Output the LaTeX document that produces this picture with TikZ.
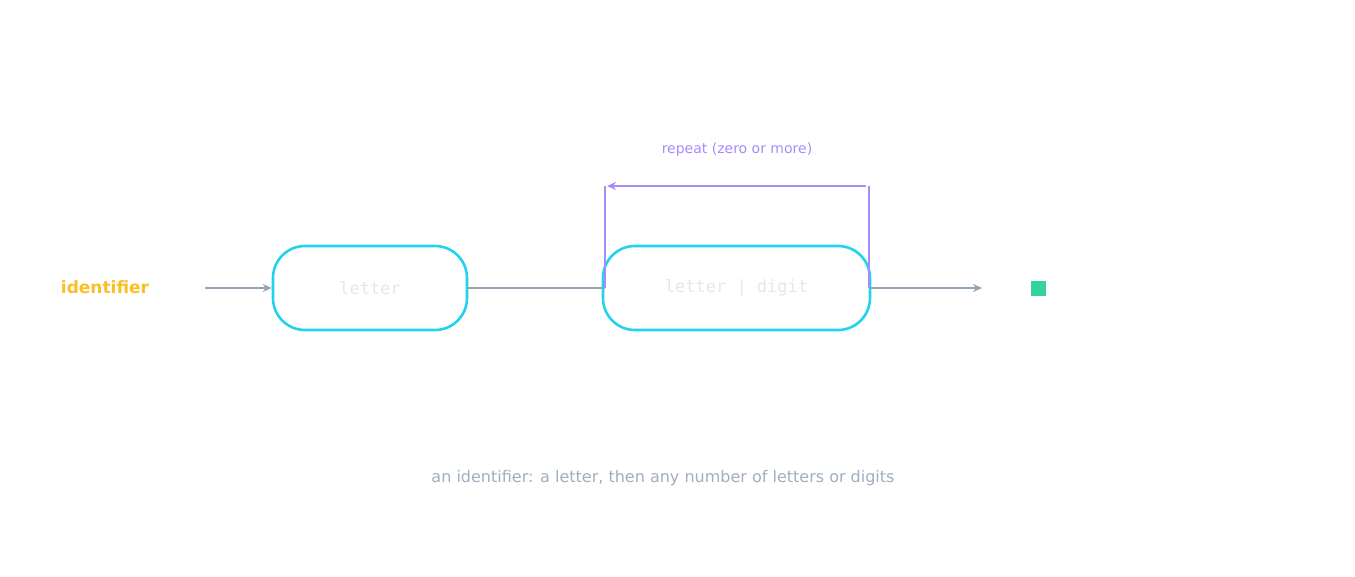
\documentclass[tikz,border=0pt]{standalone}
\usepackage{fontspec}
\setmainfont{DejaVu Sans}
\setmonofont{DejaVu Sans Mono}
\usetikzlibrary{arrows.meta}
\definecolor{cy}{HTML}{22D3EE}
\definecolor{gr}{HTML}{94A3B8}
\definecolor{pu}{HTML}{A78BFA}
\definecolor{lt}{HTML}{E2E8F0}
\definecolor{yl}{HTML}{FBBF24}
\definecolor{gn}{HTML}{34D399}
\definecolor{cap}{HTML}{A0AEC0}
\begin{document}
\begin{tikzpicture}[x=1pt,y=-1pt,
 box/.style={draw=cy,line width=2.6pt,rounded corners=32pt,text=lt,font=\ttfamily\fontsize{17}{20}\selectfont},
 conn/.style={draw=gr,line width=2.4pt,-{Stealth[length=9pt,width=8pt]}},
 loop/.style={draw=pu,line width=2.4pt}]
\useasboundingbox (0,0) rectangle (1355,576);
\node[font=\bfseries\fontsize{17}{20}\selectfont,text=yl] (id) at (105,287) {identifier};
\node[box,minimum width=194pt,minimum height=84pt] (b1) at (370,288) {letter};
\node[box,minimum width=267pt,minimum height=84pt] (b2) at (736.5,288) {letter | digit};
\node[fill=gn,minimum size=15pt,inner sep=0pt] (end) at (1038,288) {};
\coordinate (a0) at (205,288);
\coordinate (a1) at (982,288);
\coordinate (l0) at (605,288);
\coordinate (l1) at (605,186);
\coordinate (r0) at (869,288);
\coordinate (r1) at (869,186);
\draw[conn] (a0) -- (b1.west);
\draw[draw=gr,line width=2.4pt] (b1.east) -- (l0);
\draw[conn] (b2.east) -- (a1);
\draw[loop] (l0) -- (l1);
\draw[loop] (r0) -- (r1);
\draw[loop,-{Stealth[length=9pt,width=8pt]}] ([xshift=-3pt]r1) -- ([xshift=2pt]l1);
\node[text=pu,font=\fontsize{14}{16}\selectfont] (rl) at (737,150) {repeat (zero or more)};
\node[text=cap,font=\fontsize{16}{19}\selectfont] (cp) at (663,478) {an identifier: a letter, then any number of letters or digits};
\end{tikzpicture}
\end{document}
